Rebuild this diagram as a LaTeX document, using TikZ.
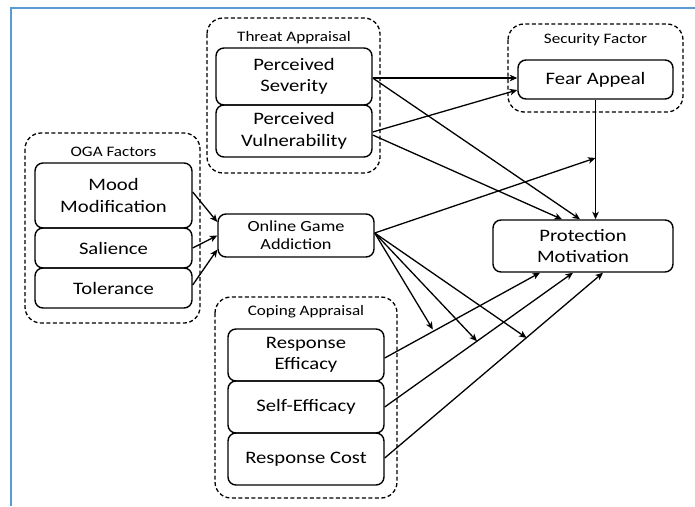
\documentclass[tikz,border=0pt]{standalone}
\usepackage{fontspec}
\setmainfont[FakeStretch=1.18]{Carlito}
\usetikzlibrary{arrows.meta,calc}
\definecolor{frameblue}{HTML}{5B9BD5}
\tikzset{
  box/.style={draw, line width=1.4pt, rounded corners=8pt, inner sep=0pt, align=center,
    font=\fontsize{17.5}{21.5}\selectfont, minimum width=156pt},
  grp/.style={draw, line width=1.3pt, rounded corners=16pt, dash pattern=on 4pt off 2.5pt},
  grptitle/.style={font=\fontsize{14.5}{17}\selectfont, inner sep=0pt},
  arr/.style={line width=1.3pt, -{Stealth[length=7.5pt,width=6.5pt,inset=2pt]}},
}
\begin{document}
\begin{tikzpicture}[x=1pt,y=-1pt]
\useasboundingbox (0,0) rectangle (695,506);
\draw[frameblue, line width=2pt] (11,506) -- (11,7.5) -- (695,7.5);

% group frames
\draw[grp] (207,18) rectangle (380,173);
\draw[grp] (25,133) rectangle (200,323);
\draw[grp] (508,24) rectangle (683,112);
\draw[grp] (215,297) rectangle (397,498);

\node[grptitle] (tT) at (294,38) {Threat Appraisal};
\node[grptitle] (tO) at (113.5,152) {OGA Factors};
\node[grptitle] (tS) at (595.5,40) {Security Factor};
\node[grptitle] (tC) at (306,312) {Coping Appraisal};

% boxes
\node[box, minimum height=57pt] (sev) at (294,76.5) {Perceived\\Severity};
\node[box, minimum height=52pt] (vul) at (294,131) {Perceived\\Vulnerability};
\node[box, minimum width=157pt, minimum height=65pt] (mood) at (113.5,195.5) {Mood\\Modification};
\node[box, minimum width=157pt, minimum height=40pt] (sal) at (113.5,248) {Salience};
\node[box, minimum width=157pt, minimum height=40pt] (tol) at (113.5,288) {Tolerance};
\node[box, minimum height=43pt, font=\fontsize{15.5}{18}\selectfont] (oga) at (296,235.5) {Online Game\\Addiction};
\node[box, minimum width=155pt, minimum height=39pt] (fear) at (595.5,79.5) {Fear Appeal};
\node[box, minimum width=180pt, minimum height=52pt] (pm) at (583,246) {Protection\\Motivation};
\node[box, minimum height=52pt] (re) at (306,355) {Response\\Efficacy};
\node[box, minimum height=52pt] (se) at (306,407) {Self-Efficacy};
\node[box, minimum height=52pt] (rc) at (306,459) {Response Cost};

% helper coordinates
\coordinate (fm) at (fear.south |- 0,158);
\coordinate (pa) at ([xshift=-43pt]pm.south);
\coordinate (pb) at ([xshift=-10pt]pm.south);
\coordinate (pc) at ([xshift=20pt]pm.south);
\coordinate (ogao) at ([yshift=2.5pt]oga.east);
\coordinate (m1) at ($(re.east)!0.31!(pa)$);
\coordinate (m2) at ($(se.east)!0.49!(pb)$);
\coordinate (m3) at ($(rc.east)!0.65!(pc)$);

% arrows
\draw[arr] ([yshift=-1.5pt]sev.east) -- ([yshift=-1.5pt]sev.east -| fear.west);
\draw[arr] ([yshift=-1pt]vul.east) -- ([yshift=-10.5pt]fear.west);
\draw[arr] ([yshift=-1.5pt]sev.east) -- ([xshift=-3pt]pm.north);
\draw[arr] ([yshift=-4pt]vul.east) -- ([xshift=-21pt]pm.north);
\draw[arr] (fear.south) -- (fear.south |- pm.north);
\draw[arr] (ogao) -- (fm);
\draw[arr] ([yshift=3.5pt]mood.east) -- ([yshift=13.5pt]oga.west);
\draw[arr] (sal.east) -- (oga.west);
\draw[arr] ([yshift=3pt]tol.east) -- ([yshift=-14pt]oga.west);
\draw[arr] (ogao) -- (m1);
\draw[arr] (ogao) -- (m2);
\draw[arr] (ogao) -- (m3);
\draw[arr] ([yshift=-3pt]re.east) -- (pa);
\draw[arr] (se.east) -- (pb);
\draw[arr] ([yshift=1pt]rc.east) -- (pc);
\end{tikzpicture}
\end{document}
